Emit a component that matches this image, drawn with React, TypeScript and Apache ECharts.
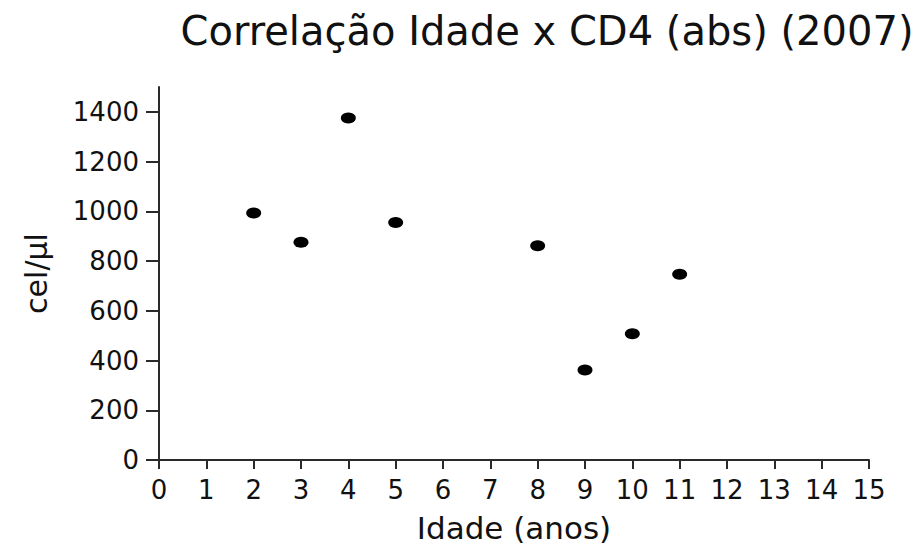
import React, { useEffect, useRef } from "react";
import * as echarts from "echarts";

const titleText = "Correlação Idade x CD4 (abs) (2007)";
const xName = "Idade (anos)";
const yName = "cel/µl";
const ages = [2, 3, 4, 5, 8, 9, 10, 11];
const cd4 = [993, 876, 1375, 955, 862, 362, 508, 747];
const yTicks = [0, 200, 400, 600, 800, 1000, 1200, 1400];

const FONT = "DejaVu Sans";
const AX = "#2a2a2a";

export default function App() {
  const ref = useRef<HTMLDivElement>(null);
  useEffect(() => {
    if (!ref.current) return;
    const chart = echarts.init(ref.current, null, { renderer: "svg" });
    chart.setOption({
      animation: false,
      backgroundColor: "#ffffff",
      title: {
        text: titleText,
        left: 542,
        top: 6,
        textAlign: "center",
        textStyle: { fontFamily: FONT, fontSize: 40, fontWeight: "normal", color: "#111" },
      },
      grid: { left: 159, right: 47, top: 87, bottom: 86, outerBoundsMode: "none", containLabel: false },
      xAxis: {
        type: "value",
        min: 0,
        max: 15,
        interval: 1,
        name: xName,
        nameLocation: "middle",
        nameGap: 52,
        nameTextStyle: { fontFamily: FONT, fontSize: 31, color: "#111" },
        axisLine: { show: true, onZero: false, lineStyle: { color: AX, width: 2 } },
        axisTick: { show: true, length: 9, lineStyle: { color: AX, width: 2 } },
        axisLabel: { fontFamily: FONT, fontSize: 26, color: "#111", margin: 17 },
        splitLine: { show: false },
      },
      yAxis: {
        type: "value",
        min: 0,
        max: 1500,
        interval: 100,
        name: yName,
        nameLocation: "middle",
        nameGap: 108,
        nameRotate: 90,
        nameTextStyle: { fontFamily: FONT, fontSize: 30, color: "#111" },
        axisLine: { show: true, lineStyle: { color: AX, width: 2 } },
        axisTick: { show: true, length: 13, customValues: yTicks, lineStyle: { color: AX, width: 2 } },
        axisLabel: {
          fontFamily: FONT,
          fontSize: 26,
          color: "#111",
          margin: 20,
          customValues: yTicks,
          formatter: (v: number) => String(v),
        },
        splitLine: { show: false },
      },
      series: [
        {
          type: "scatter",
          data: ages.map((a, i) => [a, cd4[i]]),
          symbol: "circle",
          symbolSize: [15, 11],
          itemStyle: { color: "#000000", opacity: 1 },
        },
      ],
    });
    return () => chart.dispose();
  }, []);
  return (
    <div
      ref={ref}
      style={{ position: "absolute", left: 0, top: 0, width: 916, height: 546 }}
    />
  );
}
